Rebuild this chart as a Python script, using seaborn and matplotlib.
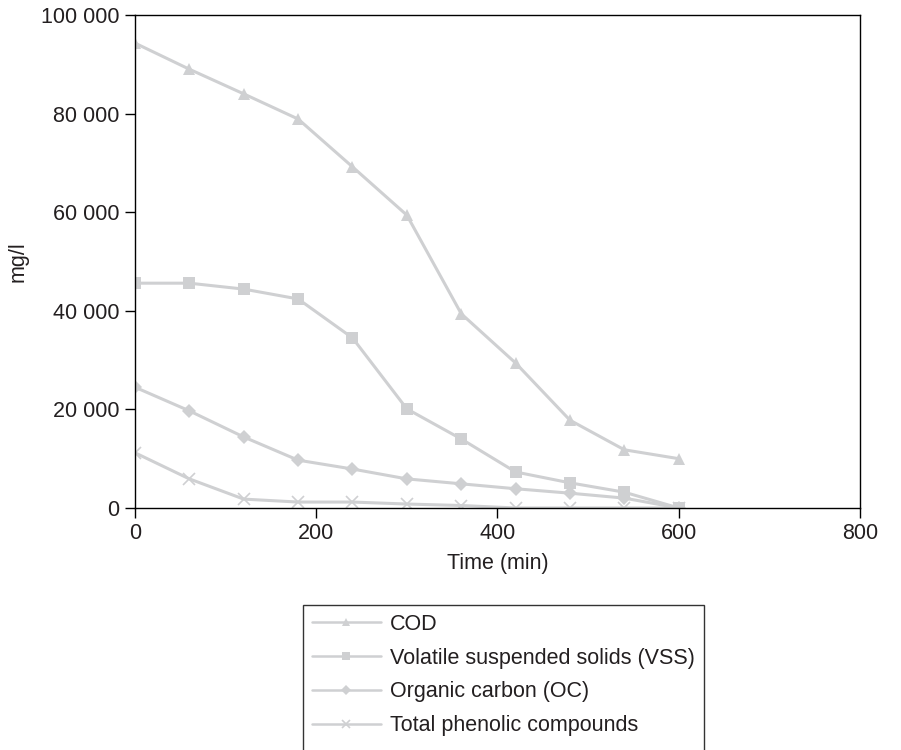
import pandas as pd
import matplotlib
matplotlib.use("Agg")
import matplotlib.pyplot as plt
import matplotlib.ticker as mticker
from matplotlib.lines import Line2D
import seaborn as sns

# ─────────────────────────────────────────────
# DATA
# ─────────────────────────────────────────────
time_min = [0, 60, 120, 180, 240, 300, 360, 420, 480, 540, 600]
cod = [94300, 89000, 84000, 78900, 69200, 59400, 39400, 29400, 17800, 11800, 10000]
vss = [45600, 45600, 44400, 42400, 34500, 20100, 14000, 7300, 5100, 3200, 0]
oc = [24500, 19700, 14400, 9700, 7900, 5900, 4900, 3900, 3000, 2000, 0]
phenolic = [11200, 5900, 1800, 1200, 1200, 800, 500, 0, 0, 0, 0]

series_names = [
    "COD",
    "Volatile suspended solids (VSS)",
    "Organic carbon (OC)",
    "Total phenolic compounds",
]
series_values = [cod, vss, oc, phenolic]

# ─────────────────────────────────────────────
# STYLE
# ─────────────────────────────────────────────
sns.set_theme(style="white")
plt.rcParams["font.family"] = ["Liberation Sans", "DejaVu Sans"]
plt.rcParams["text.color"] = "#231f20"
plt.rcParams["axes.labelcolor"] = "#231f20"
plt.rcParams["xtick.color"] = "#231f20"
plt.rcParams["ytick.color"] = "#231f20"

FS = 15.5
GREY = "#cfd0d2"
markers = {"COD": "^", "Volatile suspended solids (VSS)": "s",
           "Organic carbon (OC)": "D", "Total phenolic compounds": "x"}
msizes = {"COD": 9, "Volatile suspended solids (VSS)": 8,
          "Organic carbon (OC)": 7.5, "Total phenolic compounds": 8}

df = pd.concat(
    [pd.DataFrame({"Time": time_min, "Value": vals, "Series": name})
     for name, vals in zip(series_names, series_values)],
    ignore_index=True,
)

fig = plt.figure(figsize=(9.01, 7.5), dpi=100)
ax = fig.add_axes([0.1498, 0.3227, 0.8047, 0.6573])

for name in series_names:
    sub = df[df["Series"] == name]
    sns.lineplot(
        data=sub, x="Time", y="Value", ax=ax,
        color=GREY, linewidth=2.2,
        marker=markers[name], markersize=msizes[name],
        markeredgecolor=GREY, markerfacecolor=GREY,
        markeredgewidth=1.2 if name == "Total phenolic compounds" else 0,
        label=name, legend=False,
    )

ax.set_xlim(0, 800)
ax.set_ylim(0, 100000)
ax.set_xticks([0, 200, 400, 600, 800])
ax.set_yticks([0, 20000, 40000, 60000, 80000, 100000])
ax.yaxis.set_major_formatter(
    mticker.FuncFormatter(lambda v, _: f"{v:,.0f}".replace(",", " "))
)
ax.tick_params(axis="both", which="major", direction="out", length=7,
               width=1, color="black", labelsize=FS, pad=4,
               bottom=True, left=True, top=False, right=False)
for sp in ax.spines.values():
    sp.set_color("black")
    sp.set_linewidth(1)

ax.set_xlabel("Time (min)", fontsize=FS, labelpad=6)
ax.set_ylabel("mg/l", fontsize=FS, labelpad=9)

# legend box runs off the bottom of the page in the original, so an empty
# trailing row pushes the frame's bottom edge below the figure
handles, labels = ax.get_legend_handles_labels()
handles.append(Line2D([], [], color="none"))
labels.append(" ")
leg = fig.legend(
    handles, labels,
    loc="upper left", bbox_to_anchor=(303 / 901, 1 - 605 / 750),
    frameon=True, fancybox=False, shadow=False,
    edgecolor="black", fontsize=FS, handlelength=3.2,
    handletextpad=0.45, labelspacing=0.6, borderpad=0.4,
    borderaxespad=0, markerscale=0.65,
)
leg.get_frame().set_linewidth(1)
for line in leg.get_lines():
    line.set_linewidth(1.8)

fig.savefig("out.png", dpi=100)
